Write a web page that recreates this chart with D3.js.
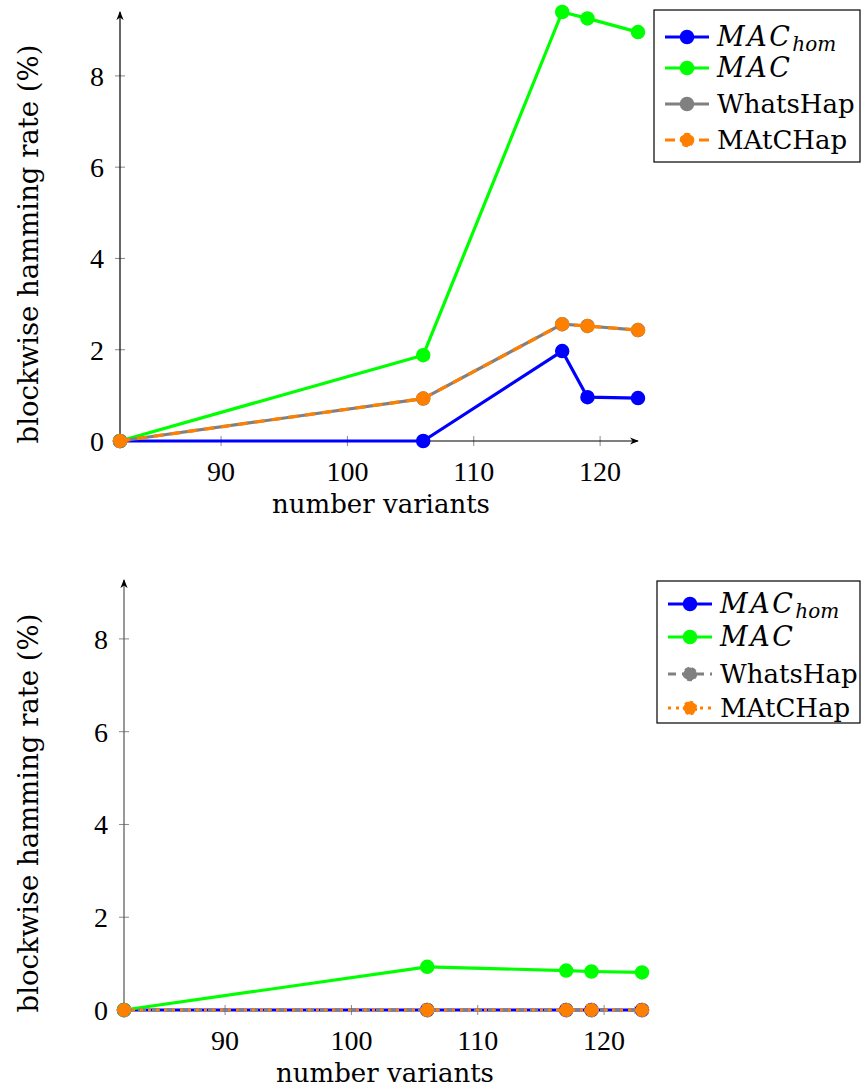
<!DOCTYPE html>
<html><head><meta charset="utf-8">
<script src="https://cdn.jsdelivr.net/npm/d3@7"></script>
<style>body{margin:0;background:#fff}svg{display:block}</style>
</head><body>
<svg id="c" width="862" height="1089"></svg>
<script>
const variants = [82, 106, 117, 119, 123];
const xTicks = [90, 100, 110, 120];
const yTicks = [0, 2, 4, 6, 8];
// top chart
const topMacHom = [0, 0, 1.97, 0.96, 0.94];
const topMac = [0, 1.88, 9.4, 9.26, 8.96];
const topWhatsHap = [0, 0.93, 2.56, 2.52, 2.43];
const topMatchap = [0, 0.93, 2.56, 2.52, 2.43];
// bottom chart
const botMacHom = [0, 0, 0, 0, 0];
const botMac = [0, 0.93, 0.85, 0.83, 0.81];
const botWhatsHap = [0, 0, 0, 0, 0];
const botMatchap = [0, 0, 0, 0, 0];
const seriesNames = ["MAC_hom", "MAC", "WhatsHap", "MAtCHap"];
const xLabel = "number variants";
const yLabel = "blockwise hamming rate (%)";

const svg = d3.select("#c");
const FONT = "DejaVu Serif, serif";
const TFONT = "Liberation Serif, serif";
const defs = svg.append("defs");
defs.append("marker").attr("id","arr").attr("viewBox","0 0 10 10").attr("refX",9).attr("refY",5)
  .attr("markerWidth",9).attr("markerHeight",9).attr("markerUnits","userSpaceOnUse").attr("orient","auto")
  .append("path").attr("d","M0,1 L10,5 L0,9 L3,5 Z").attr("fill","#000");

function chart(cfg){
  const g = svg.append("g");
  const x = d3.scaleLinear().domain([82,123]).range([cfg.x0, cfg.x1]);
  const y = d3.scaleLinear().domain([0, cfg.ymax]).range([cfg.y0, cfg.y1]);
  // ticks
  xTicks.forEach(t=>{
    g.append("line").attr("x1",x(t)).attr("x2",x(t)).attr("y1",y(0)-5).attr("y2",y(0)+5).attr("stroke","#888").attr("stroke-width",1);
    g.append("text").attr("x",x(t)).attr("y",y(0)+40).attr("text-anchor","middle").attr("font-family",TFONT).attr("font-size",28).text(t);
  });
  yTicks.forEach(t=>{
    if(t>0) g.append("line").attr("x1",x(82)-5).attr("x2",x(82)+5).attr("y1",y(t)).attr("y2",y(t)).attr("stroke","#888").attr("stroke-width",1);
    g.append("text").attr("x",x(82)-16).attr("y",y(t)+10).attr("text-anchor","end").attr("font-family",TFONT).attr("font-size",28).text(t);
  });
  // axes
  g.append("line").attr("x1",x(82)).attr("x2",x(123)).attr("y1",y(0)).attr("y2",y(0)).attr("stroke",cfg.axisCol).attr("stroke-width",1.2).attr("marker-end","url(#arr)");
  g.append("line").attr("x1",x(82)).attr("x2",x(82)).attr("y1",y(0)).attr("y2",y(cfg.ymax)).attr("stroke",cfg.axisCol).attr("stroke-width",1.2).attr("marker-end","url(#arr)");
  // labels
  g.append("text").attr("x",(cfg.x0+cfg.x1)/2+2).attr("y",y(0)+72).attr("text-anchor","middle").attr("font-family",FONT).attr("font-size",26).text(xLabel);
  g.append("text").attr("transform",`translate(${cfg.ylx},${cfg.ylc}) rotate(-90)`).attr("text-anchor","middle").attr("font-family",FONT).attr("font-size",27.5).text(yLabel);
  // series
  const line = d3.line().x((d,i)=>x(variants[i])).y(d=>y(d));
  cfg.series.forEach(s=>{
    g.append("path").datum(s.v).attr("d",line).attr("fill","none").attr("stroke",s.c).attr("stroke-width",3.2)
      .attr("stroke-dasharray",s.dash||null).attr("stroke-linejoin","round");
    g.selectAll(null).data(s.v).enter().append("circle").attr("cx",(d,i)=>x(variants[i])).attr("cy",d=>y(d)).attr("r",6.5)
      .attr("fill",s.c).attr("stroke",s.c).attr("stroke-width",1.5).attr("stroke-dasharray",s.mdash||null);
  });
  // legend
  const L = cfg.leg;
  g.append("rect").attr("x",L.x).attr("y",L.y).attr("width",L.w).attr("height",L.h).attr("fill","#fff").attr("stroke","#000").attr("stroke-width",1.2);
  cfg.series.forEach((s,i)=>{
    const yy = L.rows[i];
    g.append("line").attr("x1",L.x+11).attr("x2",L.x+55).attr("y1",yy).attr("y2",yy).attr("stroke",s.c).attr("stroke-width",3.2).attr("stroke-dasharray",s.dash||null);
    g.append("circle").attr("cx",L.x+33).attr("cy",yy).attr("r",6.5).attr("fill",s.c).attr("stroke",s.c).attr("stroke-width",1.5).attr("stroke-dasharray",s.mdash||null);
    const t = g.append("text").attr("x",L.x+63).attr("y",yy+9).attr("font-family",FONT).attr("font-size",26);
    const nm = seriesNames[i];
    if(nm.startsWith("MAC")){
      t.append("tspan").attr("font-style","italic").attr("font-size",27).attr("letter-spacing",2.5).text("MAC");
      if(nm.includes("_")) t.append("tspan").attr("font-style","italic").attr("font-size",20).attr("dy",5).text(nm.split("_")[1]);
    } else t.text(nm);
  });
}

chart({x0:120,x1:638,y0:441,y1:12,ymax:9.4,ylx:38,ylc:244,axisCol:"#000",
  series:[{v:topMacHom,c:"#0000ff"},{v:topMac,c:"#00ff00"},{v:topWhatsHap,c:"#808080"},{v:topMatchap,c:"#ff8000",dash:"10,7",mdash:"6,3"}],
  leg:{x:654,y:10,w:206,h:152,rows:[37,68,104,140]}});
chart({x0:124,x1:642,y0:1010,y1:580,ymax:9.27,ylx:38,ylc:813,axisCol:"#555",
  series:[{v:botMacHom,c:"#0000ff"},{v:botMac,c:"#00ff00"},{v:botWhatsHap,c:"#808080",dash:"8,6",mdash:"5,3"},{v:botMatchap,c:"#ff8000",dash:"3,5",mdash:"3,3"}],
  leg:{x:657,y:581,w:203,h:142,rows:[604,637,674,708]}});
</script>
</body></html>
